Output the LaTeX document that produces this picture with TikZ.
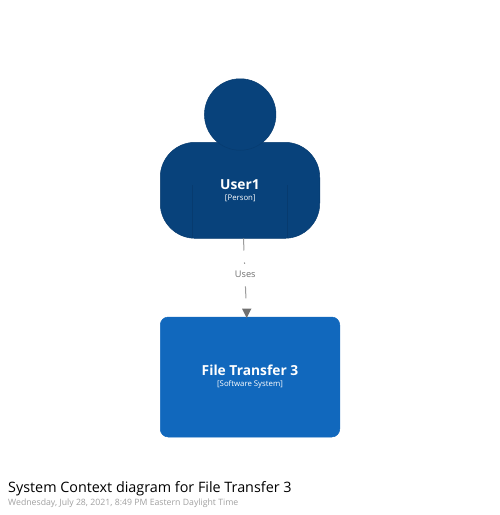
\documentclass[tikz,border=0pt]{standalone}
\usepackage{fontspec}
\setmainfont{Open Sans}
\usetikzlibrary{arrows.meta}
\definecolor{persona}{HTML}{08427B}
\definecolor{personline}{HTML}{073B6F}
\definecolor{softsys}{HTML}{1168BD}
\definecolor{conn}{HTML}{707070}
\definecolor{sub}{HTML}{A0A0A0}
\tikzset{
  body/.style={draw=personline,line width=0.5pt,fill=persona,rounded corners=35pt,minimum width=159.5pt,minimum height=96pt,inner sep=0pt},
  head/.style={draw=personline,line width=0.5pt,fill=persona,circle,minimum size=71.5pt,inner sep=0pt},
  sys/.style={draw=softsys,line width=0.5pt,fill=softsys,rounded corners=8pt,minimum width=179.5pt,minimum height=120pt,inner sep=0pt},
  titletext/.style={text=white,font=\fontsize{13.8}{16}\selectfont\bfseries,inner sep=0pt},
  metatext/.style={text=white,font=\fontsize{7.8}{10}\selectfont,inner sep=0pt},
  inner/.style={draw=personline,line width=0.5pt},
  rel/.style={draw=conn!70,line width=1pt,dash pattern=on 12pt off 12pt},
  relhead/.style={fill=conn,draw=none},
  rellabel/.style={text=conn,fill=white,font=\fontsize{9.2}{11}\selectfont,inner sep=2pt,minimum height=22pt},
  caption/.style={anchor=base west,inner sep=0pt,text=black,font=\fontsize{14.35}{16}\selectfont},
  subcaption/.style={anchor=base west,inner sep=0pt,text=sub,font=\fontsize{8.73}{10}\selectfont}
}
\begin{document}
\begin{tikzpicture}[x=1pt,y=-1pt]
\useasboundingbox (0,0) rectangle (500,515);
\node[body] (user) at (240,190.3) {};
\node[head] (userhead) at (240.2,114.5) {};
\coordinate (la) at (192,185);
\coordinate (lb) at (192,238);
\coordinate (ra) at (287.5,185);
\coordinate (rb) at (287.5,238);
\draw[inner] (la) -- (lb);
\draw[inner] (ra) -- (rb);
\node[titletext] (usertitle) at (240,184.6) {User1};
\node[metatext] (usermeta) at (240.3,198) {[Person]};
\node[sys] (system) at (250,377) {};
\node[titletext] (systitle) at (250,370.3) {File Transfer 3};
\node[metatext] (sysmeta) at (250,384.5) {[Software System]};
\coordinate (relstart) at (243.5,238.5);
\coordinate (relend) at (246.7,317);
\draw[rel] (relstart) -- (relend);
\coordinate (tipl) at (242,308.5);
\coordinate (tipr) at (251.5,308.5);
\coordinate (tip) at (246.7,318);
\fill[relhead] (tipl) -- (tipr) -- (tip) -- cycle;
\node[rellabel] (uses) at (245.3,274.5) {Uses};
\node[caption] (cap) at (8,492) {System Context diagram for File Transfer 3};
\node[subcaption] (subcap) at (8,505) {Wednesday, July 28, 2021, 8:49 PM Eastern Daylight Time};
\end{tikzpicture}
\end{document}
